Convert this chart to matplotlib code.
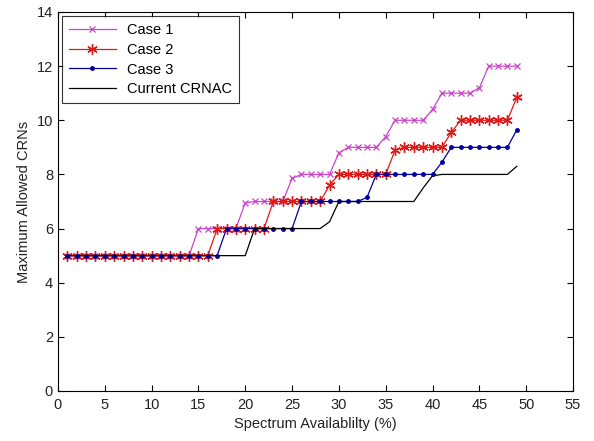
import numpy as np
import matplotlib
matplotlib.use("Agg")
import matplotlib.pyplot as plt

plt.rcParams['font.family'] = ['Liberation Sans', 'DejaVu Sans']

# spectrum availability (%)
x = np.arange(1, 50)

# Case 1
case1 = [5]*14 + [6]*5 + [6.95] + [7]*4 + [7.85] + [8]*4 + [8.8] + [9]*4 + [9.4] \
    + [10]*4 + [10.4] + [11]*4 + [11.2] + [12]*4
# Case 2
case2 = [5]*16 + [6]*6 + [7]*6 + [7.6] + [8]*6 + [8.9] + [9]*5 + [9.55] + [10]*6 + [10.85]
# Case 3
case3 = [5]*17 + [6]*8 + [7]*7 + [7.15] + [8]*7 + [8.45] + [9]*7 + [9.65]
# Current CRNAC
crnac = [5]*20 + [6]*8 + [6.25] + [7]*9 + [7.5] + [7.95] + [8]*8 + [8.3]

fig = plt.figure(figsize=(5.94, 4.41), dpi=100)
ax = fig.add_axes([0.0976, 0.1134, 0.867, 0.8594])

ax.plot(x, case1, color='#cc44cc', marker='x', ms=4.5, mew=0.9, lw=0.9, label='Case 1')
# asterisk marker like matlab '*'
ax.plot(x, case2, color='#e01818', marker=(6, 2, 0), ms=7.5, mew=1.0, lw=0.9, label='Case 2')
ax.plot(x, case3, color='#0000a0', marker='.', ms=5, lw=0.9, label='Case 3')
ax.plot(x, crnac, color='black', lw=0.9, label='Current CRNAC')

ax.set_xlim(0, 55)
ax.set_ylim(0, 14)
ax.set_xticks(np.arange(0, 56, 5))
ax.set_yticks(np.arange(0, 15, 2))
ax.tick_params(direction='in', top=True, right=True, labelsize=10.5, length=4,
               labelcolor='#222222')
ax.tick_params(axis='x', pad=5)
for s in ax.spines.values():
    s.set_linewidth(0.8)

ax.set_xlabel("Spectrum Availablilty (%)", fontsize=10.5, labelpad=4, color='#222222')
ax.set_ylabel("Maximum Allowed CRNs", fontsize=10.5, labelpad=4, color='#222222')

leg = ax.legend(loc='upper left', fontsize=10.5, fancybox=False, edgecolor='black',
                borderaxespad=0.3, handlelength=3.2, labelspacing=0.4, borderpad=0.45)
leg.get_frame().set_linewidth(0.8)

fig.savefig("out.png", dpi=100)
